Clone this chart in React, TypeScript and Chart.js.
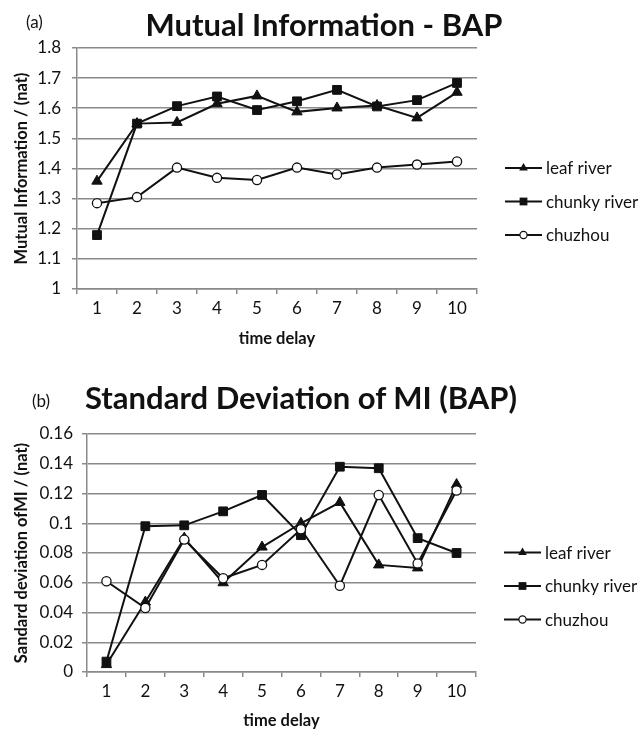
import React, { useEffect, useRef } from 'react';
import { Chart, registerables } from 'chart.js';

Chart.register(...registerables);

// ---------- data ----------
const categories = ['1', '2', '3', '4', '5', '6', '7', '8', '9', '10'];
const seriesNames = ['leaf river', 'chunky river', 'chuzhou'];

// (a) Mutual Information - BAP
const miLeaf = [1.358, 1.549, 1.553, 1.615, 1.641, 1.588, 1.601, 1.609, 1.568, 1.653];
const miChunky = [1.179, 1.549, 1.607, 1.639, 1.594, 1.623, 1.661, 1.606, 1.627, 1.684];
const miChuzhou = [1.285, 1.305, 1.403, 1.369, 1.362, 1.403, 1.38, 1.403, 1.413, 1.423];
const miTickLabels = ['1', '1.1', '1.2', '1.3', '1.4', '1.5', '1.6', '1.7', '1.8'];

// (b) Standard Deviation of MI (BAP)
const sdLeaf = [0.005, 0.047, 0.09, 0.06, 0.084, 0.1, 0.114, 0.072, 0.07, 0.126];
const sdChunky = [0.007, 0.098, 0.0986, 0.108, 0.119, 0.092, 0.138, 0.137, 0.09, 0.08];
const sdChuzhou = [0.061, 0.043, 0.089, 0.063, 0.072, 0.096, 0.058, 0.119, 0.073, 0.122];
const sdTickLabels = ['0', '0.02', '0.04', '0.06', '0.08', '0.1', '0.12', '0.14', '0.16'];

const FONT = 'Lato, "Open Sans", sans-serif';
const GRID = '#8a8a8a';
const INK = '#111111';

function drawMarker(ctx: CanvasRenderingContext2D, style: string, x: number, y: number, r: number) {
  ctx.beginPath();
  if (style === 'triangle') {
    for (let k = 0; k < 3; k++) {
      const a = (k * 2 * Math.PI) / 3;
      const px = x + Math.sin(a) * r;
      const py = y - Math.cos(a) * r;
      if (k === 0) ctx.moveTo(px, py);
      else ctx.lineTo(px, py);
    }
    ctx.closePath();
    ctx.fillStyle = INK;
    ctx.fill();
  } else if (style === 'rect') {
    const s = r * Math.SQRT1_2;
    ctx.rect(x - s, y - s, 2 * s, 2 * s);
    ctx.fillStyle = INK;
    ctx.fill();
  } else {
    ctx.arc(x, y, r, 0, Math.PI * 2);
    ctx.fillStyle = '#ffffff';
    ctx.fill();
    ctx.lineWidth = 1.2;
    ctx.strokeStyle = INK;
    ctx.stroke();
  }
}

const sideLegend = {
  id: 'sideLegend',
  afterDraw(chart: any) {
    const { ctx, chartArea } = chart;
    const cy = (chartArea.top + chartArea.bottom) / 2 + 33;
    const x0 = chartArea.right + 28;
    const x1 = chartArea.right + 65;
    chart.data.datasets.forEach((ds: any, i: number) => {
      const y = cy + (i - 1) * 33.5;
      ctx.save();
      ctx.beginPath();
      ctx.moveTo(x0, y);
      ctx.lineTo(x1, y);
      ctx.lineWidth = 1.8;
      ctx.strokeStyle = INK;
      ctx.stroke();
      const sizes: Record<string, number> = { triangle: 5, rect: 5.5, circle: 3.6 };
      drawMarker(ctx, ds.pointStyle, (x0 + x1) / 2, y, sizes[ds.pointStyle] || 4);
      ctx.fillStyle = INK;
      ctx.font = `17px ${FONT}`;
      ctx.textBaseline = 'middle';
      ctx.textAlign = 'left';
      ctx.fillText(ds.label, x1 + 4, y + 1);
      ctx.restore();
    });
  },
};

function makeDatasets(leaf: number[], chunky: number[], chuzhou: number[]) {
  const common = {
    borderColor: INK,
    borderWidth: 2,
    pointBorderColor: INK,
    tension: 0,
    fill: false,
  };
  return [
    {
      ...common,
      label: seriesNames[0],
      data: leaf,
      pointStyle: 'triangle',
      pointRadius: 6,
      pointBorderWidth: 1,
      pointBackgroundColor: INK,
      order: 3,
    },
    {
      ...common,
      label: seriesNames[1],
      data: chunky,
      pointStyle: 'rect',
      pointRadius: 6.2,
      pointBorderWidth: 1,
      pointBackgroundColor: INK,
      order: 2,
    },
    {
      ...common,
      label: seriesNames[2],
      data: chuzhou,
      pointStyle: 'circle',
      pointRadius: 4.6,
      pointBorderWidth: 1.3,
      pointBackgroundColor: '#ffffff',
      order: 1,
    },
  ];
}

type Cfg = {
  leaf: number[];
  chunky: number[];
  chuzhou: number[];
  min: number;
  max: number;
  step: number;
  tickLabels: string[];
  yTitle: string;
  axisLeft: number;
  padTop: number;
  padRight: number;
  xHeight: number;
  yTickPad: number;
};

function makeConfig(c: Cfg): any {
  return {
    type: 'line',
    data: { labels: categories, datasets: makeDatasets(c.leaf, c.chunky, c.chuzhou) },
    plugins: [sideLegend],
    options: {
      animation: false,
      responsive: false,
      maintainAspectRatio: false,
      layout: { padding: { left: 0, top: c.padTop, right: c.padRight, bottom: 0 } },
      plugins: {
        legend: { display: false },
        title: { display: false },
        tooltip: { enabled: false },
      },
      scales: {
        x: {
          type: 'category',
          offset: true,
          afterFit: (s: any) => {
            s.height = c.xHeight;
          },
          grid: {
            display: true,
            offset: true,
            drawOnChartArea: false,
            drawTicks: true,
            tickLength: 5,
            color: GRID,
            lineWidth: 1.5,
          },
          border: { display: true, color: GRID, width: 1.5 },
          ticks: {
            color: INK,
            font: { family: FONT, size: 17 },
            padding: 4,
            maxRotation: 0,
          },
          title: {
            display: true,
            text: 'time delay',
            color: INK,
            font: { family: FONT, size: 16.5, weight: 'bold' },
            padding: { top: 0, bottom: 6 },
          },
        },
        y: {
          type: 'linear',
          min: c.min,
          max: c.max,
          afterFit: (s: any) => {
            s.width = c.axisLeft;
          },
          grid: {
            color: GRID,
            lineWidth: 1.5,
            drawTicks: true,
            tickLength: 5,
          },
          border: { display: true, color: GRID, width: 1.5 },
          ticks: {
            stepSize: c.step,
            color: INK,
            font: { family: FONT, size: 17 },
            padding: c.yTickPad,
            callback: (_v: any, i: number) => c.tickLabels[i],
          },
          title: {
            display: true,
            text: c.yTitle,
            color: INK,
            font: { family: FONT, size: 16.5, weight: 'bold' },
            padding: { top: 12, bottom: 0 },
          },
        },
      },
    },
  };
}

function ChartBox({ cfg, top, height }: { cfg: Cfg; top: number; height: number }) {
  const ref = useRef<HTMLCanvasElement | null>(null);
  useEffect(() => {
    if (!ref.current) return;
    const chart = new Chart(ref.current, makeConfig(cfg));
    return () => chart.destroy();
  }, []);
  return (
    <div style={{ position: 'absolute', left: 0, top, width: 638, height }}>
      <canvas ref={ref} width={638} height={height} style={{ width: 638, height, display: 'block' }} />
    </div>
  );
}

export default function App() {
  const cfgA: Cfg = {
    leaf: miLeaf,
    chunky: miChunky,
    chuzhou: miChuzhou,
    min: 1,
    max: 1.8,
    step: 0.1,
    tickLabels: miTickLabels,
    yTitle: 'Mutual Information / (nat)',
    axisLeft: 77,
    padTop: 48,
    padRight: 161,
    xHeight: 66,
    yTickPad: 11,
  };
  const cfgB: Cfg = {
    leaf: sdLeaf,
    chunky: sdChunky,
    chuzhou: sdChuzhou,
    min: 0,
    max: 0.16,
    step: 0.02,
    tickLabels: sdTickLabels,
    yTitle: 'Sandard deviation ofMI / (nat)',
    axisLeft: 87,
    padTop: 52,
    padRight: 162,
    xHeight: 65,
    yTickPad: 9,
  };
  return (
    <div
      style={{
        position: 'absolute',
        left: 0,
        top: 0,
        width: 638,
        height: 737,
        background: '#ffffff',
        fontFamily: FONT,
        color: INK,
        overflow: 'hidden',
      }}
    >
      <ChartBox cfg={cfgA} top={0} height={355} />
      <ChartBox cfg={cfgB} top={382} height={355} />
      <div style={{ position: 'absolute', left: 26, top: 12, fontSize: 17, lineHeight: '20px' }}>(a)</div>
      <div
        style={{
          position: 'absolute',
          left: 0,
          width: 648,
          top: 6,
          textAlign: 'center',
          fontWeight: 700,
          fontSize: 31,
          lineHeight: '36px',
        }}
      >
        Mutual Information - BAP
      </div>
      <div style={{ position: 'absolute', left: 32, top: 391, fontSize: 17, lineHeight: '20px' }}>(b)</div>
      <div
        style={{
          position: 'absolute',
          left: 0,
          width: 602,
          top: 379,
          textAlign: 'center',
          fontWeight: 700,
          fontSize: 31,
          lineHeight: '36px',
        }}
      >
        Standard Deviation of MI (BAP)
      </div>
    </div>
  );
}
